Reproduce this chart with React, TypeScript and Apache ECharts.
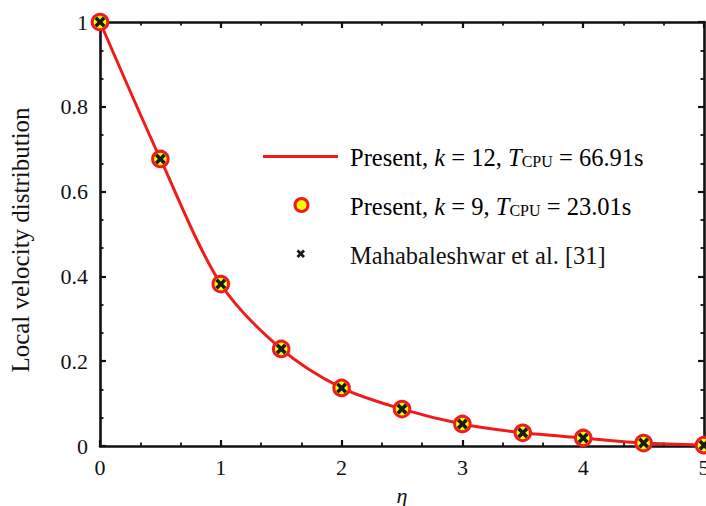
import React, { useEffect, useRef } from "react";
import * as echarts from "echarts";

const etaValues = [0, 0.5, 1, 1.5, 2, 2.5, 3, 3.5, 4, 4.5, 5];
const presentK12 = [1, 0.677, 0.382, 0.229, 0.137, 0.087, 0.052, 0.031, 0.019, 0.007, 0.002];
const presentK9 = [1, 0.677, 0.382, 0.229, 0.137, 0.087, 0.052, 0.031, 0.019, 0.007, 0.002];
const mahabaleshwar = [1, 0.677, 0.382, 0.229, 0.137, 0.087, 0.052, 0.031, 0.019, 0.007, 0.002];

const seriesNames = [
  "Present, k = 12, TCPU = 66.91s",
  "Present, k = 9, TCPU = 23.01s",
  "Mahabaleshwar et al. [31]",
];

const FONT = "Liberation Serif";
const RED = "#f01c1c";
const CROSS_PATH = "M0,2.3 L2.3,0 L5,2.7 L7.7,0 L10,2.3 L7.3,5 L10,7.7 L7.7,10 L5,7.3 L2.3,10 L0,7.7 L2.7,5 Z";

echarts.graphic.registerShape(
  "crossMark",
  echarts.graphic.extendPath(CROSS_PATH, {})
);

const pairs = (ys: number[]) => etaValues.map((x, i) => [x, ys[i]]);

const LF = 24.5;
const richStyles = {
  n: { fontFamily: FONT, fontSize: LF, color: "#111" },
  i: { fontFamily: FONT, fontSize: LF, fontStyle: "italic", color: "#111" },
  s: { fontFamily: FONT, fontSize: 16, color: "#111", verticalAlign: "bottom", padding: [7, 0, 0, 0] },
};

export default function App() {
  const ref = useRef<HTMLDivElement>(null);
  useEffect(() => {
    if (!ref.current) return;
    const chart = echarts.init(ref.current, undefined, { renderer: "svg" });
    const axisCommon = {
      type: "value" as const,
      axisLine: { show: true, onZero: false, lineStyle: { color: "#111", width: 2.6 } },
      axisTick: { show: true, inside: true, length: 6, lineStyle: { color: "#111", width: 2.2 } },
      minorTick: { show: true, splitNumber: 3, length: 3.5, lineStyle: { color: "#111", width: 1.8 } },
      splitLine: { show: false },
      minorSplitLine: { show: false },
    };
    chart.setOption({
      animation: false,
      backgroundColor: "#fff",
      grid: { left: 100, right: 2, top: 22, bottom: 60, containLabel: false, outerBoundsMode: "none" },
      xAxis: [
        {
          ...axisCommon,
          min: 0,
          max: 5,
          interval: 1,
          position: "bottom",
          name: "η",
          nameLocation: "middle",
          nameGap: 38,
          nameTextStyle: { fontFamily: FONT, fontSize: 22, fontStyle: "italic", color: "#111" },
          axisLabel: { fontFamily: FONT, fontSize: 22, color: "#111", margin: 10 },
        },
        {
          ...axisCommon,
          min: 0,
          max: 5,
          interval: 1,
          position: "top",
          axisLabel: { show: false },
        },
      ],
      yAxis: [
        {
          ...axisCommon,
          min: 0,
          max: 1,
          interval: 0.2,
          position: "left",
          name: "Local velocity distribution",
          nameLocation: "middle",
          nameGap: 67,
          nameTextStyle: { fontFamily: FONT, fontSize: 25, color: "#111", padding: [0, 12, 0, 0] },
          axisLabel: { fontFamily: FONT, fontSize: 22, color: "#111", margin: 12 },
        },
        {
          ...axisCommon,
          min: 0,
          max: 1,
          interval: 0.2,
          position: "right",
          axisLabel: { show: false },
        },
      ],
      series: [
        {
          name: seriesNames[0],
          type: "line",
          smooth: 0.3,
          symbol: "none",
          lineStyle: { color: RED, width: 3 },
          data: pairs(presentK12),
          z: 2,
        },
        {
          name: seriesNames[1],
          type: "scatter",
          symbol: "circle",
          symbolSize: 15.5,
          itemStyle: { color: "#ffff00", borderColor: RED, borderWidth: 3, opacity: 1 },
          data: pairs(presentK9),
          z: 3,
        },
        {
          name: seriesNames[2],
          type: "scatter",
          symbol: "path://" + CROSS_PATH,
          symbolSize: 11,
          itemStyle: { color: "#1a1a1a", opacity: 1 },
          data: pairs(mahabaleshwar),
          z: 4,
        },
      ],
      graphic: [
        { type: "rect", shape: { x: 263, y: 155, width: 75, height: 3 }, style: { fill: RED } },
        {
          type: "text",
          x: 350,
          y: 157,
          style: {
            text: "{n|Present, }{i|k}{n| = 12, }{i|T}{s|CPU}{n| = 66.91s}",
            rich: richStyles,
            verticalAlign: "middle",
          },
        },
        {
          type: "circle",
          shape: { cx: 301.5, cy: 205, r: 6.5 },
          style: { fill: "#ffff00", stroke: RED, lineWidth: 3 },
        },
        {
          type: "text",
          x: 350,
          y: 206,
          style: {
            text: "{n|Present, }{i|k}{n| = 9, }{i|T}{s|CPU}{n| = 23.01s}",
            rich: richStyles,
            verticalAlign: "middle",
          },
        },
        {
          type: "crossMark",
          x: 296.5,
          y: 249.5,
          scaleX: 0.85,
          scaleY: 0.85,
          style: { fill: "#1a1a1a" },
        },
        {
          type: "text",
          x: 350,
          y: 255,
          style: {
            text: "Mahabaleshwar et al. [31]",
            fontFamily: FONT,
            fontSize: LF,
            fill: "#111",
            verticalAlign: "middle",
          },
        },
      ],
    });
    return () => chart.dispose();
  }, []);
  return (
    <div
      ref={ref}
      style={{ position: "fixed", left: 0, top: 0, width: 706, height: 506 }}
    />
  );
}
